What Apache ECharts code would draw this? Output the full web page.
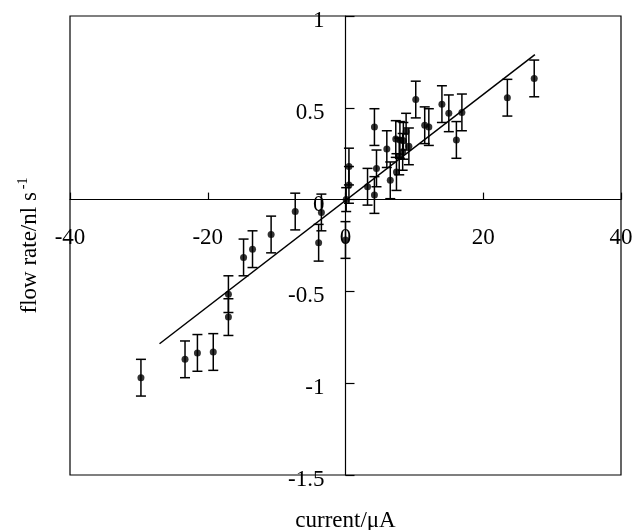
<!DOCTYPE html>
<html>
<head>
<meta charset="utf-8">
<script src="https://cdn.jsdelivr.net/npm/echarts@6/dist/echarts.min.js"></script>
<style>html,body{margin:0;padding:0;background:#fff}#c{width:633px;height:530px}</style>
</head>
<body>
<div id="c"></div>
<script>
// current (µA)
const currentX = [-29.7,-23.3,-21.5,-19.2,-17.0,-17.0,-14.8,-13.5,-10.8,-7.3,-3.5,-3.9,0.0,0.1,0.5,0.5,3.2,4.2,4.5,4.2,6.0,6.5,7.3,7.4,7.9,7.8,8.3,8.4,8.8,9.2,10.2,11.5,12.1,14.0,15.0,16.9,16.1,23.5,27.4];
// flow rate (nl/s)
const flowY = [-0.97,-0.87,-0.835,-0.83,-0.64,-0.515,-0.315,-0.27,-0.19,-0.065,-0.07,-0.235,-0.22,0.0,0.08,0.18,0.07,0.025,0.17,0.395,0.275,0.105,0.33,0.15,0.325,0.235,0.26,0.32,0.37,0.29,0.545,0.405,0.395,0.52,0.47,0.475,0.325,0.555,0.66];
// error (+/-)
const flowErr = [0.1,0.1,0.1,0.1,0.1,0.1,0.1,0.1,0.1,0.1,0.1,0.1,0.1,0.065,0.1,0.1,0.1,0.1,0.1,0.1,0.1,0.1,0.1,0.1,0.1,0.1,0.1,0.1,0.1,0.1,0.1,0.1,0.1,0.1,0.1,0.1,0.1,0.1,0.1];
// fitted line end points
const fitX = [-27.0, 27.5];
const fitY = [-0.785, 0.79];
// axis ranges
const xRange = [-40, 40];
const yRange = [-1.5, 1];

const W = 633, H = 530;
const G = {left:70, right:12, top:16, bottom:55};
const gw = W - G.left - G.right, gh = H - G.top - G.bottom;
// move axes to the zero lines
const xOff = -gh * (0 - yRange[0]) / (yRange[1] - yRange[0]);
const yOff = -gw * (0 - xRange[0]) / (xRange[1] - xRange[0]);

const font = 'Liberation Serif, Times New Roman, serif';
const FS = 23;
const pts = currentX.map((x,i)=>[x, flowY[i], flowErr[i]]);
const chart = echarts.init(document.getElementById('c'));
chart.setOption({
  animation:false,
  grid:Object.assign({containLabel:false,outerBoundsMode:'none',show:true,borderColor:'#000',borderWidth:1.2,backgroundColor:'transparent'},G),
  xAxis:{type:'value',min:xRange[0],max:xRange[1],interval:20,position:'bottom',offset:xOff,
    axisLine:{onZero:false,lineStyle:{color:'#000',width:1.2}},
    axisTick:{inside:true,length:7,lineStyle:{color:'#000',width:1.2}},
    axisLabel:{color:'#000',fontFamily:font,fontSize:FS,margin:27},
    splitLine:{show:false},
    name:'current/\u03bcA',nameLocation:'middle',nameGap:310,
    nameTextStyle:{color:'#000',fontFamily:font,fontSize:FS}},
  yAxis:{type:'value',min:yRange[0],max:yRange[1],interval:0.5,position:'left',offset:yOff,
    axisLine:{onZero:false,lineStyle:{color:'#000',width:1.2}},
    axisTick:{inside:true,length:9,lineStyle:{color:'#000',width:1.2}},
    axisLabel:{color:'#000',fontFamily:font,fontSize:FS,margin:21,verticalAlign:'top',lineHeight:10},
    splitLine:{show:false},
    name:'{a|flow rate/nl s}{b|-1}',nameLocation:'middle',nameGap:303,
    nameTextStyle:{color:'#000',fontFamily:font,fontSize:FS,
      rich:{a:{fontFamily:font,fontSize:FS,color:'#000'},b:{fontFamily:font,fontSize:14,color:'#000',verticalAlign:'top',padding:[0,0,12,3]}}}},
  series:[
    {type:'custom',data:pts,z:3,
      renderItem:function(params,api){
        const x=api.value(0),y=api.value(1),e=api.value(2);
        const t=api.coord([x,y+e]),b=api.coord([x,y-e]);
        const w=5;
        const st={stroke:'#000',lineWidth:1.5};
        return {type:'group',children:[
          {type:'line',shape:{x1:t[0],y1:t[1],x2:b[0],y2:b[1]},style:st},
          {type:'line',shape:{x1:t[0]-w,y1:t[1],x2:t[0]+w,y2:t[1]},style:st},
          {type:'line',shape:{x1:b[0]-w,y1:b[1],x2:b[0]+w,y2:b[1]},style:st}
        ]};
      }},
    {type:'line',data:fitX.map((x,i)=>[x,fitY[i]]),symbol:'none',lineStyle:{color:'#000',width:1.5},z:4},
    {type:'scatter',data:pts.map(p=>[p[0],p[1]]),symbol:'circle',symbolSize:7,itemStyle:{color:'#000'},z:5}
  ]
});
</script>
</body>
</html>
